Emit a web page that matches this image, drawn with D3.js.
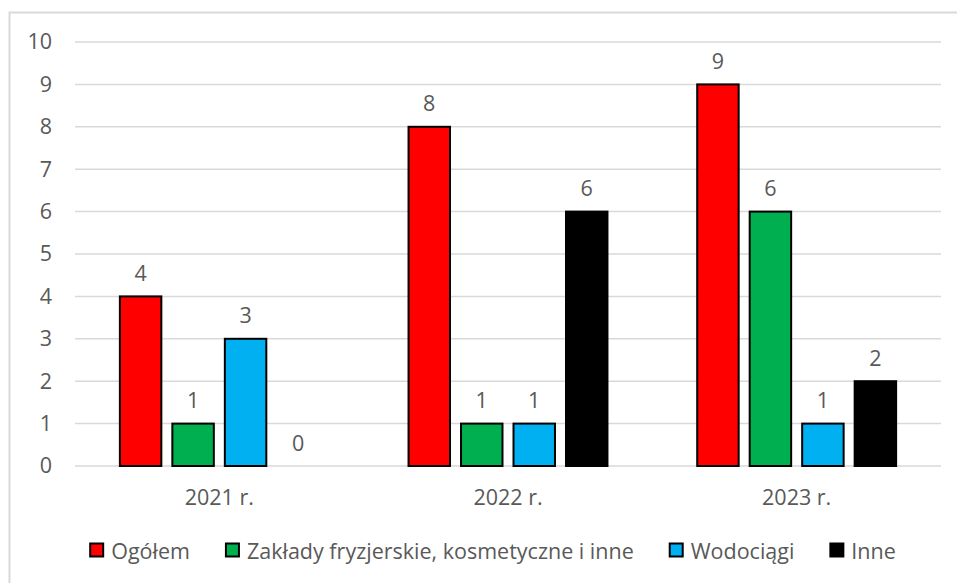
<!DOCTYPE html>
<html><head><meta charset="utf-8">
<script src="https://cdn.jsdelivr.net/npm/d3@7"></script>
<style>
html,body{margin:0;padding:0;background:#fff;}
text{font-family:"Open Sans","Liberation Sans",Arial,sans-serif;fill:#595959;}
</style></head>
<body>
<svg id="chart" width="957" height="583"></svg>
<script>
const categories = ["2021 r.", "2022 r.", "2023 r."];
const seriesNames = ["Ogółem", "Zakłady fryzjerskie, kosmetyczne i inne", "Wodociągi", "Inne"];
const seriesColors = ["#FF0000", "#00B050", "#00B0F0", "#000000"];
const ogolem = [4, 8, 9];
const zaklady = [1, 1, 6];
const wodociagi = [3, 1, 1];
const inne = [0, 6, 2];
const yTicks = [0, 1, 2, 3, 4, 5, 6, 7, 8, 9, 10];

const seriesValues = [ogolem, zaklady, wodociagi, inne];
const FS = "21.5px";
const FF = '"Open Sans","Liberation Sans",Arial,sans-serif';
const svg = d3.select("#chart");
const plot = {left: 75, right: 941, top: 42, bottom: 466};

// chart border
svg.append("rect").attr("x", 9.5).attr("y", 12.5).attr("width", 1000).attr("height", 700)
  .attr("fill", "none").attr("stroke", "#d9d9d9").attr("stroke-width", 2);

const y = d3.scaleLinear().domain([0, 10]).range([plot.bottom, plot.top]);
const x0 = d3.scaleBand().domain(categories).range([plot.left, plot.right]).padding(0);
const x1 = d3.scaleBand().domain(d3.range(seriesNames.length)).range([0, x0.bandwidth()])
  .paddingInner(0.21).paddingOuter(0.855);

// gridlines
svg.append("g").selectAll("line").data(yTicks).join("line")
  .attr("x1", plot.left).attr("x2", plot.right)
  .attr("y1", d => y(d)).attr("y2", d => y(d))
  .attr("stroke", "#d9d9d9").attr("stroke-width", 1.5);

// y labels
const yAxis = d3.axisLeft(y).tickValues(yTicks).tickSize(0).tickPadding(0);
const gy = svg.append("g").attr("transform", `translate(${52},0)`).call(yAxis);
gy.select(".domain").remove();
gy.selectAll("text").style("font-size", FS).attr("fill", "#595959").style("font-family", FF);

// x labels
const xAxis = d3.axisBottom(x0).tickSize(0).tickPadding(0);
const gx = svg.append("g").attr("transform", `translate(0,${490})`).call(xAxis);
gx.select(".domain").remove();
gx.selectAll("text").style("font-size", FS).attr("fill", "#595959").style("font-family", FF);

// bars
const rows = [];
categories.forEach((c, ci) => seriesValues.forEach((vals, si) => rows.push({c, si, v: vals[ci]})));
const bars = svg.append("g");
bars.selectAll("rect").data(rows.filter(d => d.v > 0)).join("rect")
  .attr("x", d => x0(d.c) + x1(d.si))
  .attr("y", d => y(d.v))
  .attr("width", x1.bandwidth())
  .attr("height", d => y(0) - y(d.v))
  .attr("fill", d => seriesColors[d.si])
  .attr("stroke", "#000").attr("stroke-width", 2);

// data labels
bars.selectAll("text").data(rows).join("text")
  .attr("x", d => x0(d.c) + x1(d.si) + x1.bandwidth() / 2)
  .attr("y", d => y(d.v) - 24)
  .attr("text-anchor", "middle").attr("dominant-baseline", "central")
  .style("font-size", FS)
  .text(d => d.v);

// legend
const GAP = 36;
const leg = svg.append("g");
const items = leg.selectAll("g").data(seriesNames).join("g");
items.append("rect").attr("width", 13).attr("height", 13).attr("y", -6.5)
  .attr("fill", (d, i) => seriesColors[i]).attr("stroke", "#000").attr("stroke-width", 2);
items.append("text").attr("x", 21).attr("dominant-baseline", "central")
  .style("font-size", FS).text(d => d);
let xpos = 0;
items.each(function() {
  const g = d3.select(this);
  g.attr("transform", `translate(${xpos},0)`);
  const tw = g.select("text").node().getComputedTextLength();
  xpos += 21 + tw + GAP;
});
const total = xpos - GAP;
leg.attr("transform", `translate(${493 - total / 2},${550})`);
</script>
</body></html>
